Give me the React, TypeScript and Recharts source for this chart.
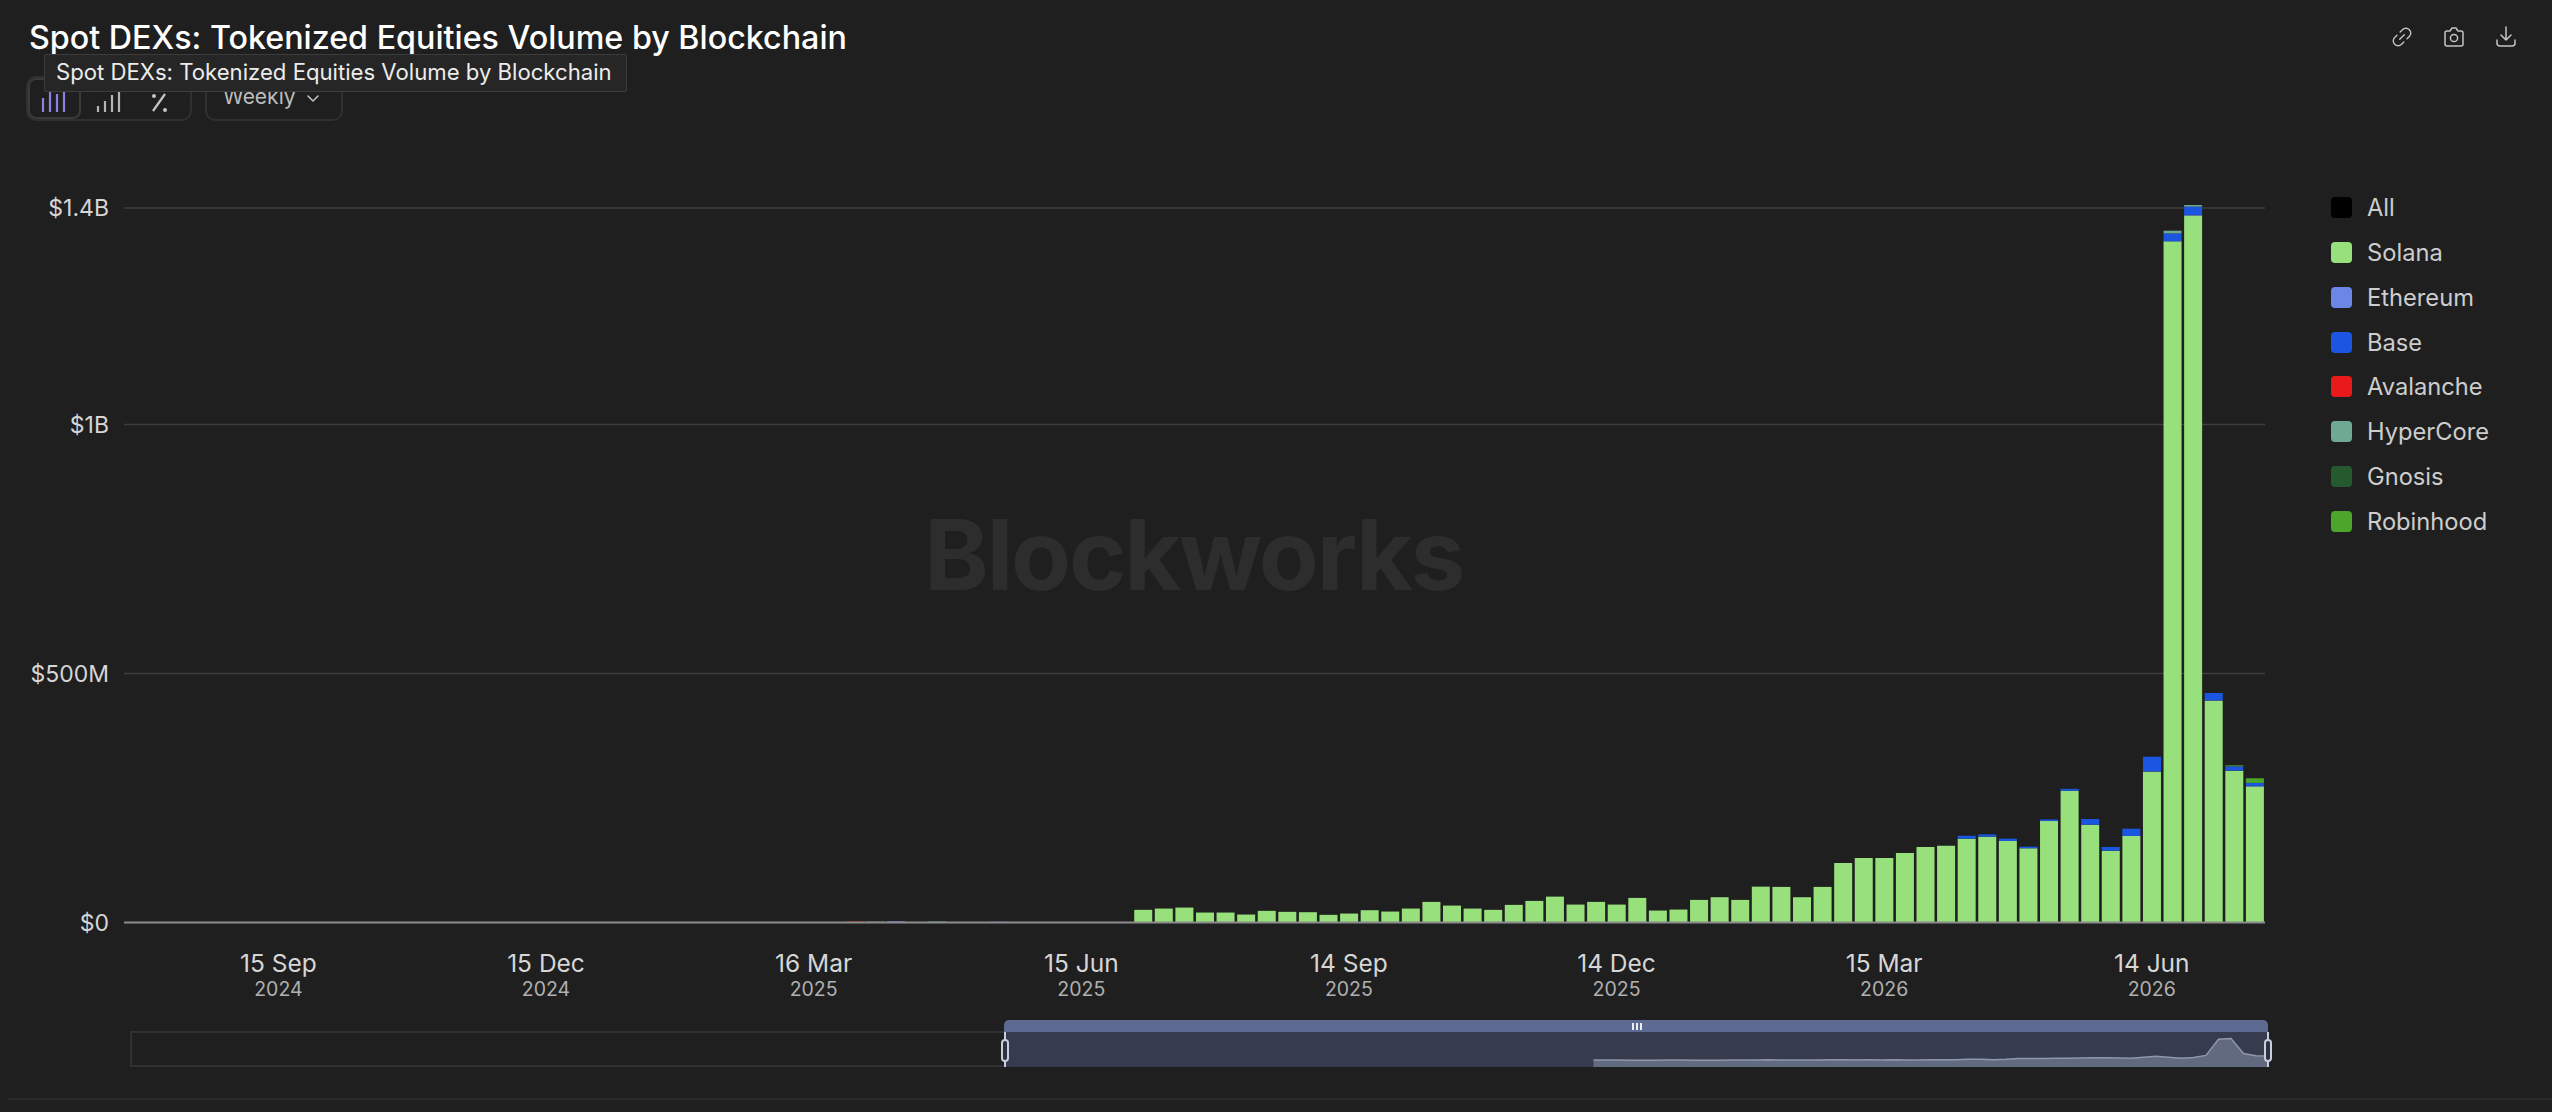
import React from "react";
import { BarChart, Bar, XAxis, YAxis, CartesianGrid, AreaChart, Area } from "recharts";

const FONT = "Inter, 'Liberation Sans', sans-serif";

const weeks: string[] = [
  "28 Jul 2024","4 Aug 2024","11 Aug 2024","18 Aug 2024","25 Aug 2024","1 Sep 2024","8 Sep 2024","15 Sep 2024","22 Sep 2024","29 Sep 2024",
  "6 Oct 2024","13 Oct 2024","20 Oct 2024","27 Oct 2024","3 Nov 2024","10 Nov 2024","17 Nov 2024","24 Nov 2024","1 Dec 2024","8 Dec 2024",
  "15 Dec 2024","22 Dec 2024","29 Dec 2024","5 Jan 2025","12 Jan 2025","19 Jan 2025","26 Jan 2025","2 Feb 2025","9 Feb 2025","16 Feb 2025",
  "23 Feb 2025","2 Mar 2025","9 Mar 2025","16 Mar 2025","23 Mar 2025","30 Mar 2025","6 Apr 2025","13 Apr 2025","20 Apr 2025","27 Apr 2025",
  "4 May 2025","11 May 2025","18 May 2025","25 May 2025","1 Jun 2025","8 Jun 2025","15 Jun 2025","22 Jun 2025","29 Jun 2025","6 Jul 2025",
  "13 Jul 2025","20 Jul 2025","27 Jul 2025","3 Aug 2025","10 Aug 2025","17 Aug 2025","24 Aug 2025","31 Aug 2025","7 Sep 2025","14 Sep 2025",
  "21 Sep 2025","28 Sep 2025","5 Oct 2025","12 Oct 2025","19 Oct 2025","26 Oct 2025","2 Nov 2025","9 Nov 2025","16 Nov 2025","23 Nov 2025",
  "30 Nov 2025","7 Dec 2025","14 Dec 2025","21 Dec 2025","28 Dec 2025","4 Jan 2026","11 Jan 2026","18 Jan 2026","25 Jan 2026","1 Feb 2026",
  "8 Feb 2026","15 Feb 2026","22 Feb 2026","1 Mar 2026","8 Mar 2026","15 Mar 2026","22 Mar 2026","29 Mar 2026","5 Apr 2026","12 Apr 2026",
  "19 Apr 2026","26 Apr 2026","3 May 2026","10 May 2026","17 May 2026","24 May 2026","31 May 2026","7 Jun 2026","14 Jun 2026","21 Jun 2026",
  "28 Jun 2026","5 Jul 2026","12 Jul 2026","19 Jul 2026",
];

const xTicks: string[] = ["15 Sep 2024","15 Dec 2024","16 Mar 2025","15 Jun 2025","14 Sep 2025","14 Dec 2025","15 Mar 2026","14 Jun 2026"];
const yTicks: number[] = [0, 500, 1000, 1435];
const yTickLabels: Record<number, string> = { 0: "$0", 500: "$500M", 1000: "$1B", 1435: "$1.4B" };

// All volumes in $M
const solana: number[] = [
  0,0,0,0,0,0,0,0,0,0, 0,0,0,0,0,0,0,0,0,0, 0,0,0,0,0,0,0,0,0,0, 0,0,0,0,0,0,0,0,0,0, 0,0,0,0,0,0,0,0,0,
  25.4,28,30,20,20,16,23.4,21.4,20.7,15.4,18,24.7,22,28,41.4,34,28,25.4,35.4,43.4,52,36,41.4,36,49.4,24,26,45.4,50.8,
  45.4,72,71.5,50.8,71.5,119.6,129.6,129.6,139.6,151.6,154.3,
  168.3,172.3,163.7,149,203.7,264.5,196.4,144.3,173.7,303,1368,1420,445.6,305,273,
];
const ethereum: Record<string, number> = { "13 Apr 2025": 2.5, "18 May 2025": 1.5, "5 Jul 2026": 0.6, "19 Jul 2026": 1.3, "14 Jun 2026": 0.6, "28 Jun 2026": 0.8 };
const base: Record<string, number> = {
  "12 Apr 2026": 6, "19 Apr 2026": 4.7, "26 Apr 2026": 4.7, "3 May 2026": 3.3, "10 May 2026": 3.3, "17 May 2026": 4,
  "24 May 2026": 11.4, "31 May 2026": 7.3, "7 Jun 2026": 14.7, "14 Jun 2026": 29.4, "21 Jun 2026": 16, "28 Jun 2026": 17,
  "5 Jul 2026": 14.7, "12 Jul 2026": 8.7, "19 Jul 2026": 6,
};
const avalanche: Record<string, number> = { "30 Mar 2025": 2, "15 Jun 2025": 1.2 };
const hyperCore: Record<string, number> = { "6 Apr 2025": 1.8, "27 Apr 2025": 2, "21 Jun 2026": 5.4, "28 Jun 2026": 3.2 };
const gnosis: Record<string, number> = {};
const robinhood: Record<string, number> = { "12 Jul 2026": 2, "19 Jul 2026": 9.4 };

const seriesNames = ["Solana", "Ethereum", "Base", "Avalanche", "HyperCore", "Gnosis", "Robinhood"];
const seriesColors = ["#98E07B", "#6B86E5", "#1A56E0", "#E81A1A", "#6FA893", "#255A2E", "#4CA62C"];
const legendNames = ["All", ...seriesNames];
const legendColors = ["#000000", ...seriesColors];

const chartData = weeks.map((week, i) => {
  const row = {
    week,
    Solana: solana[i],
    Ethereum: ethereum[week] ?? 0,
    Base: base[week] ?? 0,
    Avalanche: avalanche[week] ?? 0,
    HyperCore: hyperCore[week] ?? 0,
    Gnosis: gnosis[week] ?? 0,
    Robinhood: robinhood[week] ?? 0,
  } as any;
  return row;
});
const miniData = chartData.map((r: any) => {
  const total = seriesNames.reduce((s, n) => s + r[n], 0);
  return { week: r.week, total: r.Solana > 0 ? total : null };
});

const XTick = (props: any) => {
  const { x, y, payload } = props;
  const parts = String(payload.value).split(" ");
  return (
    <g>
      <text x={x} y={y + 41} textAnchor="middle" fill="#d6d6d6" fontSize={24.5} fontFamily={FONT}>{parts[0] + " " + parts[1]}</text>
      <text x={x} y={y + 65} textAnchor="middle" fill="#b0b0b0" fontSize={19.5} fontFamily={FONT}>{parts[2]}</text>
    </g>
  );
};

const box = (left: number, top: number, width: number, height: number, extra: React.CSSProperties = {}): React.CSSProperties => ({
  position: "absolute", left, top, width, height, boxSizing: "border-box", ...extra,
});

const icon = { fill: "none", stroke: "#c4c4c4", strokeWidth: 1.5, strokeLinecap: "round", strokeLinejoin: "round" } as any;

export default function App() {
  return (
    <div style={{ position: "fixed", left: 0, top: 0, width: 2552, height: 1112, background: "#1f1f1f", overflow: "hidden", fontFamily: FONT }}>
      {/* watermark */}
      <div style={{ position: "absolute", left: 924, top: 490, fontSize: 98, fontWeight: 700, color: "#2d2d2d", letterSpacing: -2.2, lineHeight: "130px" }}>Blockworks</div>

      <div style={{ position: "absolute", left: 0, top: 0 }}>
        <BarChart width={2552} height={1112} data={chartData} margin={{ top: 205, right: 287, bottom: 0, left: 0 }} barCategoryGap="7.2%">
          <CartesianGrid horizontal vertical={false} stroke="#3e3e3e" strokeWidth={1.5} horizontalValues={yTicks} />
          <XAxis dataKey="week" ticks={xTicks} interval={0} height={189.5} tickLine={false} axisLine={{ stroke: "#8a8a8a", strokeWidth: 2 }} tick={<XTick />} />
          <YAxis type="number" width={124} domain={[0, "dataMax"]} ticks={yTicks} interval={0} tickLine={false} axisLine={false} tickMargin={9}
            tick={{ fill: "#d6d6d6", fontSize: 23, fontFamily: FONT }} tickFormatter={(v: number) => yTickLabels[v]} />
          {seriesNames.map((n, i) => (
            <Bar key={n} dataKey={n} stackId="a" fill={seriesColors[i]} isAnimationActive={false} />
          ))}
        </BarChart>
      </div>

      {/* title + tooltip */}
      <div style={{ position: "absolute", left: 29, top: 16, fontSize: 32.25, color: "#ffffff", fontWeight: 500, lineHeight: "44px", whiteSpace: "nowrap" }}>Spot DEXs: Tokenized Equities Volume by Blockchain</div>

      {/* toolbar */}
      <div style={box(26, 76, 166, 45, { border: "2px solid #303030", borderRadius: 10 })} />
      <div style={box(28, 78, 53, 41, { border: "2px solid #3a3a3a", borderRadius: 8 })} />
      <svg style={box(40, 88, 140, 26)} viewBox="0 0 140 26">
        {[3, 10, 17, 24].map((x, i) => <line key={x} x1={x} x2={x} y1={[10, 3, 6, 3][i]} y2={24} stroke="#8b82e0" strokeWidth={2.2} />)}
        {[58, 65, 72, 79].map((x, i) => <line key={x} x1={x} x2={x} y1={[18, 13, 7, 3][i]} y2={24} stroke="#b5b5b5" strokeWidth={2.2} />)}
        <line x1={113} x2={125} y1={23} y2={6} stroke="#c5c5c5" strokeWidth={2.2} />
        <circle cx={114} cy={8} r={2} fill="#c5c5c5" /><circle cx={125} cy={22} r={2} fill="#c5c5c5" />
      </svg>
      <div style={box(205, 76, 138, 45, { border: "2px solid #303030", borderRadius: 10 })} />
      <div style={{ position: "absolute", left: 223, top: 82, fontSize: 21, color: "#bdbdbd", lineHeight: "30px" }}>Weekly</div>
      <svg style={box(306, 93, 14, 12)} viewBox="0 0 14 12"><path d="M2 3 L7 8 L12 3" {...icon} /></svg>
      <div style={box(44, 54, 583, 38, { background: "#262626", border: "1px solid #3c3c3c", borderRadius: 2 })} />
      <div style={{ position: "absolute", left: 56, top: 55, fontSize: 22.15, color: "#ececec", lineHeight: "34px", whiteSpace: "nowrap" }}>Spot DEXs: Tokenized Equities Volume by Blockchain</div>

      {/* header icons */}
      <svg style={box(2391, 26, 22, 22)} viewBox="0 0 24 24">
        <path d="M9.5 14.5 L14.5 9.5 M10 6.5 L12.5 4 A5 5 0 0 1 20 11.5 L17.5 14 M14 17.5 L11.5 20 A5 5 0 0 1 4 12.5 L6.5 10" {...icon} />
      </svg>
      <svg style={box(2442, 25, 24, 24)} viewBox="0 0 24 24">
        <path d="M3 8 A2 2 0 0 1 5 6 L8 6 L10 3 L14 3 L16 6 L19 6 A2 2 0 0 1 21 8 L21 19 A2 2 0 0 1 19 21 L5 21 A2 2 0 0 1 3 19 Z" {...icon} />
        <circle cx={12} cy={13} r={3.6} {...icon} />
      </svg>
      <svg style={box(2494, 25, 24, 24)} viewBox="0 0 24 24">
        <path d="M12 2 L12 15 M7 10 L12 15 L17 10 M3 15 L3 18 A3 3 0 0 0 6 21 L18 21 A3 3 0 0 0 21 18 L21 15" {...icon} />
      </svg>

      {/* legend */}
      {legendNames.map((n, i) => (
        <React.Fragment key={n}>
          <div style={box(2331, 197 + i * 44.85, 21, 21, { background: legendColors[i], borderRadius: 4 })} />
          <div style={{ position: "absolute", left: 2367, top: 191 + i * 44.85, fontSize: 23.7, lineHeight: "34px", color: "#cdcdcd", whiteSpace: "nowrap" }}>{n}</div>
        </React.Fragment>
      ))}

      {/* slider */}
      <div style={box(130, 1031, 874, 36, { border: "2px solid #303030", borderRight: "none" })} />
      <div style={box(1004, 1032, 1264, 35, { background: "#363c4e" })} />
      <div style={{ position: "absolute", left: 980.5, top: 1032 }}>
        <AreaChart width={1287.5} height={35} data={miniData} margin={{ top: 0, right: 0, bottom: 0, left: 0 }}>
          <XAxis dataKey="week" hide scale="point" padding={{ left: 0, right: 0 }} interval={0} />
          <YAxis hide type="number" domain={[-432, 1873]} />
          <Area dataKey="total" type="linear" baseValue={-432} stroke="#8f97ad" strokeWidth={1.5} fill="#6a7288" fillOpacity={0.85} isAnimationActive={false} dot={false} />
        </AreaChart>
      </div>
      <div style={box(1004, 1020, 1264, 12, { background: "#5d6a92", borderRadius: "5px 5px 0 0" })} />
      <div style={box(1632, 1023, 2, 7, { background: "#eee" })} />
      <div style={box(1636, 1023, 2, 7, { background: "#eee" })} />
      <div style={box(1640, 1023, 2, 7, { background: "#eee" })} />
      <div style={box(1004, 1032, 1.5, 35, { background: "#c8cede" })} />
      <div style={box(2267, 1032, 1.5, 35, { background: "#c8cede" })} />
      <div style={box(1000.5, 1039, 8, 23, { background: "#2c3040", border: "2px solid #c8cede", borderRadius: 4 })} />
      <div style={box(2264, 1039, 8, 23, { background: "#2c3040", border: "2px solid #c8cede", borderRadius: 4 })} />

      <div style={box(8, 1098, 2544, 2, { background: "#2a2a2a" })} />
    </div>
  );
}
